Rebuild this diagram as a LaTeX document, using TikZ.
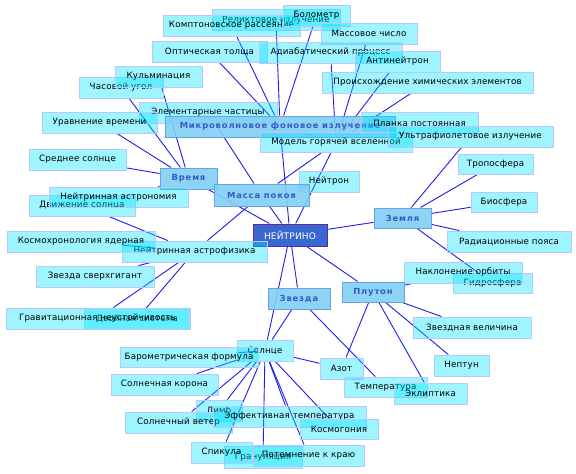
\documentclass[tikz,border=0pt]{standalone}
\usepackage{fontspec}
\setmainfont{DejaVu Sans}
\newfontfamily\catfont[LetterSpace=10]{DejaVu Sans}
\newfontfamily\leaffont[LetterSpace=2]{DejaVu Sans}
\definecolor{leaffill}{RGB}{0,229,255}
\definecolor{leafline}{RGB}{185,200,250}
\definecolor{catfill}{RGB}{128,207,243}
\definecolor{catline}{RGB}{105,160,230}
\definecolor{cattext}{RGB}{55,90,200}
\definecolor{cenfill}{RGB}{58,104,208}
\definecolor{cenline}{RGB}{90,42,160}
\definecolor{edgecol}{RGB}{30,30,235}
\pgfdeclarelayer{back}
\pgfdeclarelayer{bg}
\pgfsetlayers{back,bg,main}
\tikzset{
  leaf/.style={draw=leafline, line width=0.9pt, fill=leaffill, fill opacity=0.38, text opacity=1,
    minimum height=21pt, inner xsep=2pt, inner ysep=0pt,
    font=\leaffont\fontsize{8.7}{10}\selectfont, text=black},
  cat/.style={draw=catline, line width=1pt, fill=catfill, fill opacity=0.9, text opacity=1,
    minimum height=21pt, inner xsep=2pt, inner ysep=0pt,
    font=\catfont\bfseries\fontsize{8.4}{10}\selectfont, text=cattext},
  center/.style={draw=cenline, line width=1pt, fill=cenfill, minimum height=22pt,
    inner xsep=2pt, inner ysep=0pt, font=\leaffont\fontsize{9}{10}\selectfont, text=white},
  conn/.style={draw=edgecol, line width=0.9pt}
}
\begin{document}
\begin{tikzpicture}[x=1pt,y=-1pt]
\begin{pgfonlayer}{back}
\fill[white] (0,0) rectangle (576,474);
\end{pgfonlayer}
\useasboundingbox (0,0) rectangle (576,474);

% top cluster
\node[leaf, minimum width=128pt] (relikt) at (276,20) {Реликтовое излучение};
\node[leaf, minimum width=137pt] (kompt) at (231.5,25.5) {Комптоновское рассеяние};
\node[leaf, minimum width=67pt] (bolo) at (316.5,15.5) {Болометр};
\node[leaf, minimum width=96pt] (mass) at (369,33.5) {Массовое число};
\node[leaf, minimum width=115pt] (opt) at (209.5,52) {Оптическая толща};
\node[leaf, minimum width=143pt] (adiab) at (330.5,52.5) {Адиабатический процесс};
\node[leaf, minimum width=85pt] (anti) at (397.5,61.5) {Антинейтрон};
\node[leaf, minimum width=211pt] (proish) at (427.5,82.5) {Происхождение химических элементов};
\node[leaf, minimum width=84pt] (chas) at (121,87.5) {Часовой угол};
\node[leaf, minimum width=87pt] (kulm) at (158.5,76.5) {Кульминация};
\node[leaf, minimum width=138pt] (elem) at (208,112.5) {Элементарные частицы};
\node[leaf, minimum width=115pt] (urav) at (99.5,122.5) {Уравнение времени};
\node[cat, minimum width=230pt] (mikro) at (280,126.5) {Микроволновое фоновое излучение};
\node[leaf, minimum width=117pt] (planck) at (419.5,123) {Планка постоянная};
\node[leaf, minimum width=152pt, minimum height=20pt] (model) at (336,142.5) {Модель горячей вселенной};
\node[leaf, minimum width=165pt] (uv) at (470.5,136.5) {Ультрафиолетовое излучение};

% left cluster
\node[leaf, minimum width=97pt] (sredn) at (77.5,159.5) {Среднее солнце};
\node[cat, minimum width=57pt] (vremya) at (188.5,178.5) {Время};
\node[leaf, minimum width=106pt] (dvizh) at (82,205.5) {Движение солнца};
\node[leaf, minimum width=139pt, minimum height=20pt] (astron) at (118.5,197) {Нейтринная астрономия};
\node[leaf, minimum width=60pt] (neutron) at (329,181.5) {Нейтрон};
\node[cat, minimum width=95pt, minimum height=22pt] (massa) at (261.5,195) {Масса покоя};
\node[center, minimum width=74pt] (neutrino) at (290,235) {НЕЙТРИНО};
\node[leaf, minimum width=145pt] (astrof) at (194.5,251.5) {Нейтринная астрофизика};
\node[leaf, minimum width=148pt] (kosmohr) at (81,241.5) {Космохронология ядерная};
\node[leaf, minimum width=118pt] (sverh) at (95,276.5) {Звезда сверхгигант};
\node[leaf, minimum width=106pt] (dvoin) at (137,319) {Двойная система};
\node[leaf, minimum width=183pt] (grav) at (97.5,318.5) {Гравитационная неустойчивость};

% right cluster
\node[leaf, minimum width=75pt, minimum height=20pt] (trop) at (495.5,164) {Тропосфера};
\node[leaf, minimum width=66pt, minimum height=20pt] (bio) at (504,202) {Биосфера};
\node[cat, minimum width=57pt, minimum height=20pt] (zemlya) at (402.5,218) {Земля};
\node[leaf, minimum width=124pt] (rad) at (509,241.5) {Радиационные пояса};
\node[leaf, minimum width=79pt, minimum height=20pt] (gidro) at (492.5,283) {Гидросфера};
\node[leaf, minimum width=118pt] (naklon) at (463,272.5) {Наклонение орбиты};
\node[cat, minimum width=62pt, minimum height=20pt] (pluton) at (373,292) {Плутон};
\node[leaf, minimum width=118pt] (zvvel) at (472,327.5) {Звездная величина};
\node[leaf, minimum width=55pt] (neptun) at (461.5,365.5) {Нептун};
\node[leaf, minimum width=43pt] (azot) at (341.5,368.5) {Азот};
\node[leaf, minimum width=83pt, minimum height=20pt] (temp) at (385.5,387) {Температура};
\node[leaf, minimum width=73pt] (eklip) at (430.5,393.5) {Эклиптика};
\node[cat, minimum width=62pt] (zvezda) at (299,298.5) {Звезда};

% sun cluster
\node[leaf, minimum width=56pt] (solnce) at (265,350.5) {Солнце};
\node[leaf, minimum width=138pt, minimum height=20pt] (barom) at (189,357) {Барометрическая формула};
\node[leaf, minimum width=107pt] (korona) at (164.5,384.5) {Солнечная корона};
\node[leaf, minimum width=46pt] (limb) at (219,410.5) {Лимб};
\node[leaf, minimum width=107pt] (veter) at (178.5,422.5) {Солнечный ветер};
\node[leaf, minimum width=153pt] (effekt) at (289.5,416.5) {Эффективная температура};
\node[leaf, minimum width=78pt, minimum height=20pt] (kosmog) at (339,429) {Космогония};
\node[leaf, minimum width=78pt, minimum height=22pt] (granul) at (263,457) {Грануляция};
\node[leaf, minimum width=61pt] (spik) at (221.5,452.5) {Спикула};
\node[leaf, minimum width=111pt] (potemn) at (308.5,455.5) {Потемнение к краю};

\begin{pgfonlayer}{bg}
\foreach \a/\b in {mikro/relikt, mikro/kompt, mikro/bolo, mikro/opt, mikro/planck, mikro/model,
  model/mass, model/adiab, model/anti, model/proish,
  vremya/kulm, vremya/chas, vremya/urav, vremya/sredn, vremya/astron,
  neutrino/vremya, neutrino/massa, neutrino/mikro, neutrino/model, neutrino/zemlya,
  neutrino/pluton, neutrino/zvezda, neutrino/solnce,
  massa/elem, massa/model, massa/astrof, massa/neutron,
  astrof/dvizh, astrof/kosmohr, astrof/sverh, astrof/grav, astrof/dvoin,
  zemlya/uv, zemlya/trop, zemlya/bio, zemlya/rad, zemlya/gidro,
  pluton/naklon, pluton/zvvel, pluton/neptun, pluton/eklip, pluton/azot,
  zvezda/temp, zvezda/solnce,
  solnce/barom, solnce/korona, solnce/azot, solnce/veter, solnce/limb, solnce/spik,
  solnce/granul, solnce/potemn, solnce/effekt, solnce/kosmog}
  \draw[conn] (\a) -- (\b);
\end{pgfonlayer}
\end{tikzpicture}
\end{document}
